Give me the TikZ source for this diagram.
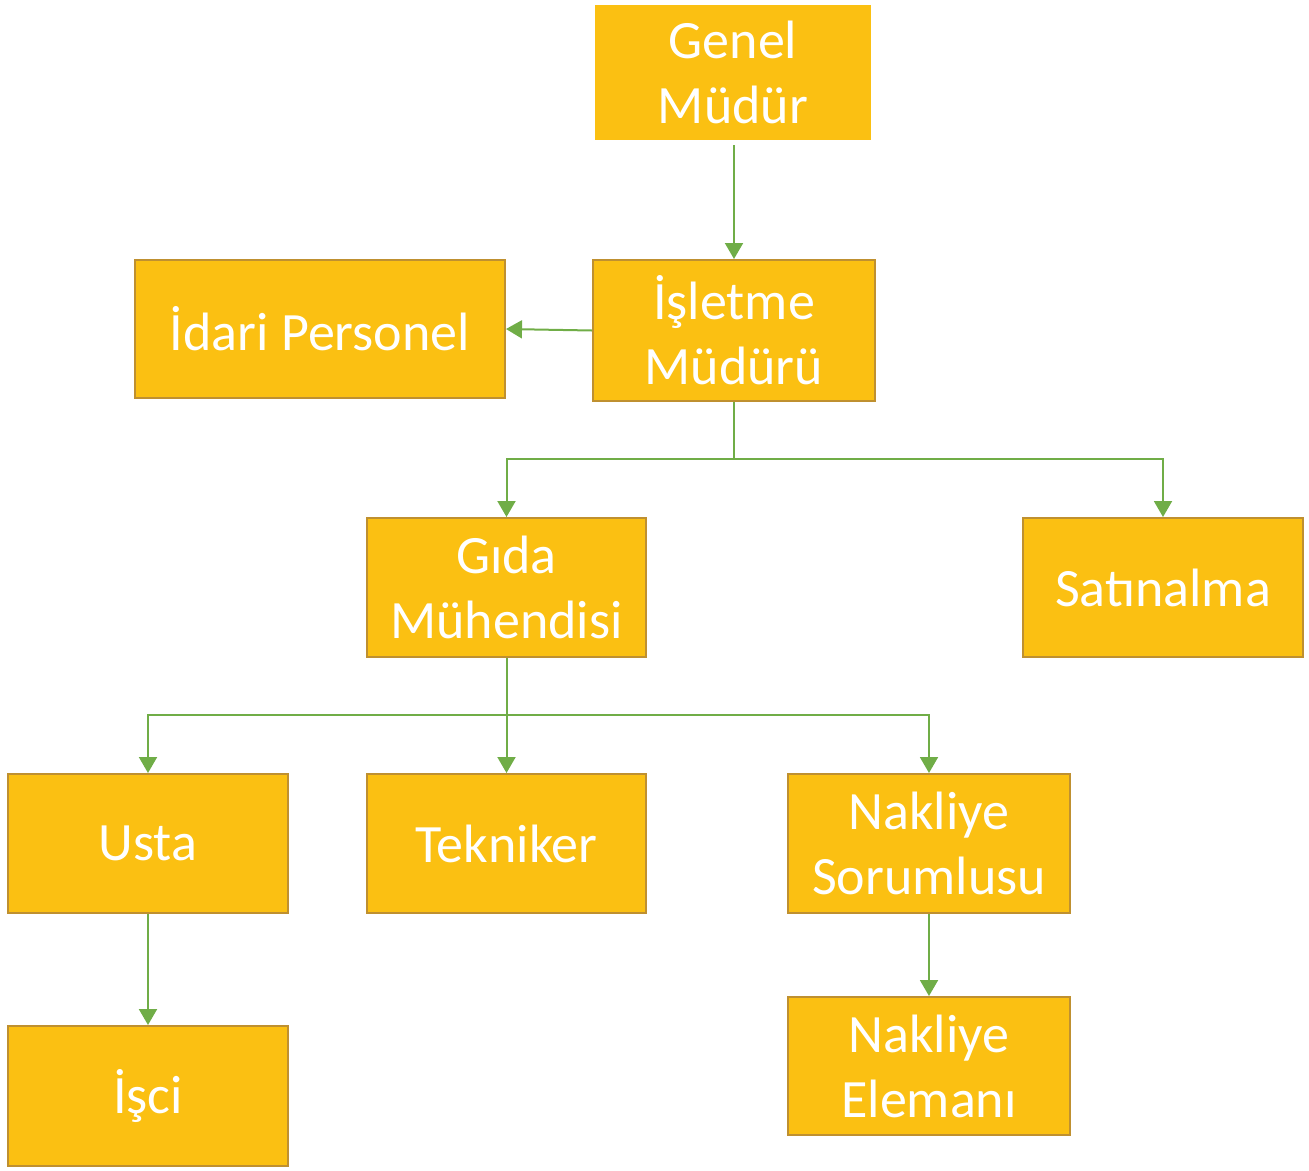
\documentclass[tikz,border=0pt]{standalone}
\usepackage{fontspec}
\setmainfont{Carlito}
\usetikzlibrary{arrows.meta}
\definecolor{boxfill}{HTML}{FBC012}
\definecolor{boxline}{HTML}{BF9030}
\definecolor{arr}{HTML}{70AD47}
\tikzset{
  x=1pt,y=-1pt,
  box/.style={draw=boxline,line width=2pt,fill=boxfill,text=white,align=center,
    inner sep=0pt,font=\fontsize{54}{65}\selectfont},
  link/.style={draw=arr,line width=2pt,-{Triangle[length=16pt,width=18pt]}},
  plain/.style={draw=arr,line width=2pt}
}
\newcommand{\bx}[6]{\node[box,minimum width={#4-#2},minimum height={#5-#3}] (#1) at ({(#2+#4)/2},{(#3+#5)/2}) {#6};}
\begin{document}
\begin{tikzpicture}
\useasboundingbox (0,0) rectangle (1309,1170);
\node[box,draw=none,minimum width=276,minimum height=135] (gm) at (733,72.5) {Genel\\Müdür};
\bx{im}{593}{260}{875}{401}{İşletme\\Müdürü}
\bx{ip}{135}{260}{505}{398}{İdari Personel}
\bx{gd}{367}{518}{646}{657}{Gıda\\Mühendisi}
\bx{sa}{1023}{518}{1303}{657}{Satınalma}
\bx{us}{8}{774}{288}{913}{Usta}
\bx{te}{367}{774}{646}{913}{Tekniker}
\bx{ns}{788}{774}{1070}{913}{Nakliye\\Sorumlusu}
\bx{is}{8}{1026}{288}{1166}{İşci}
\bx{ne}{788}{997}{1070}{1135}{Nakliye\\Elemanı}
\coordinate (j1) at (734,459);
\coordinate (j2) at (506.5,715);
\draw[link] (734,145) -- (im.north);
\draw[link] (im.west) -- (ip.east);
\draw[plain] (im.south) -- (j1);
\draw[link] (j1) -| (gd.north);
\draw[link] (j1) -| (sa.north);
\draw[plain] (gd.south) -- (j2);
\draw[link] (j2) -| (us.north);
\draw[link] (j2) -- (te.north);
\draw[link] (j2) -| (ns.north);
\draw[link] (us.south) -- (is.north);
\draw[link] (ns.south) -- (ne.north);
\end{tikzpicture}
\end{document}
